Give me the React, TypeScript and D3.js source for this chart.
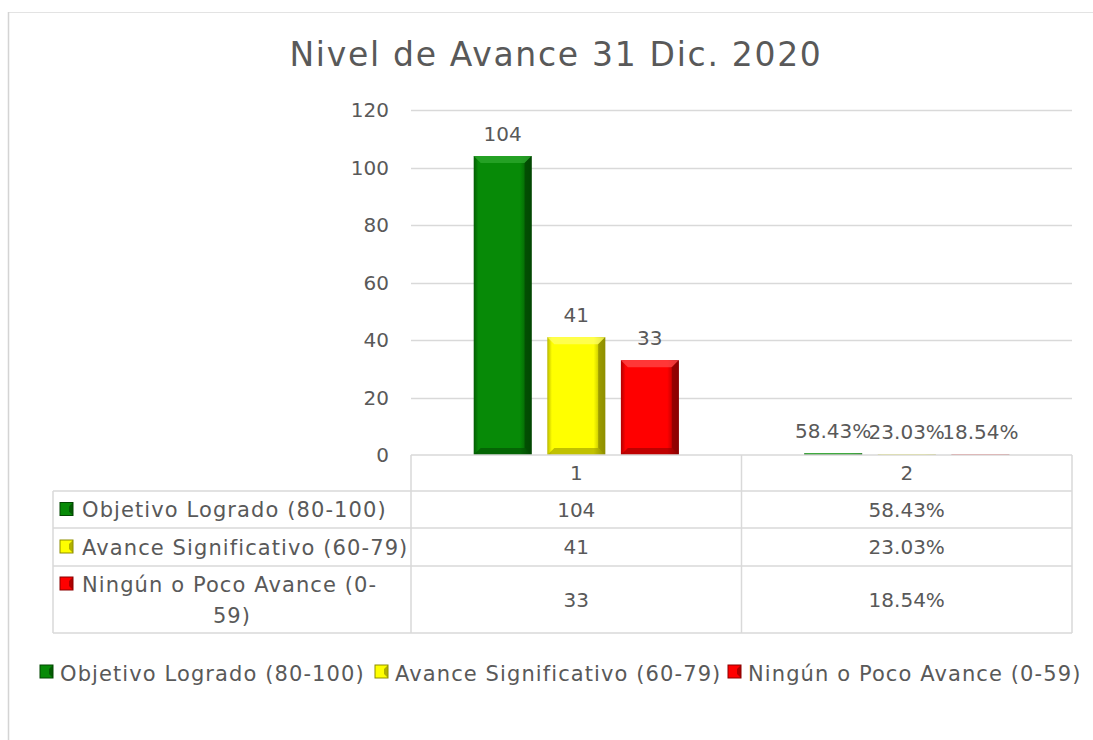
import React from "react";
import * as d3 from "d3";

const title = "Nivel de Avance 31 Dic. 2020";
const categories = ["1", "2"];
const seriesNames = [
  "Objetivo Logrado (80-100)",
  "Avance Significativo (60-79)",
  "Ningún o Poco Avance (0-59)",
];
const tableLabelLines = [
  ["Objetivo Logrado (80-100)"],
  ["Avance Significativo (60-79)"],
  ["Ningún o Poco Avance (0-", "59)"],
];
const objetivoValues = [104, 0.5843];
const avanceValues = [41, 0.2303];
const ningunValues = [33, 0.1854];
const categoryFormats = ["count", "percent"];
const yTicks = [0, 20, 40, 60, 80, 100, 120];

const seriesValues = [objetivoValues, avanceValues, ningunValues];
const seriesColors = [
  { base: "#078a07", light: "#2fa82f", dark: "#024702", edge: "#035d03" },
  { base: "#ffff00", light: "#ffff66", dark: "#8e8e00", edge: "#b8b800" },
  { base: "#ff0000", light: "#ff4a4a", dark: "#8a0000", edge: "#b00000" },
];

const FONT = "'DejaVu Sans', sans-serif";
const TEXT = "#595959";
const GRID = "#d9d9d9";
const WORD_SPACING = 1.1;

const fmt = (v: number, ci: number) =>
  categoryFormats[ci] === "percent" ? (v * 100).toFixed(2) + "%" : String(v);

export default function App() {
  const W = 1093;
  const H = 740;
  const plotLeft = 411;
  const plotRight = 1072;
  const y = d3.scaleLinear().domain([0, 120]).range([455, 110]);
  const x = d3.scaleBand<string>().domain(categories).range([plotLeft, plotRight]);
  const x1 = d3
    .scaleBand<string>()
    .domain(seriesNames)
    .range([0, x.bandwidth()])
    .paddingInner(0.213)
    .paddingOuter(0.852);

  const tableLeft = 53;
  const rowEdges = [455, 491, 528, 566, 633];
  const legendX = [40, 375, 728];
  const legendY = 673;

  const bars: React.ReactNode[] = [];
  seriesNames.forEach((s, si) => {
    categories.forEach((c, ci) => {
      const v = seriesValues[si][ci];
      const bx = (x(c) as number) + (x1(s) as number);
      const bw = x1.bandwidth();
      const top = y(v);
      const bottom = y(0);
      const h = bottom - top;
      const b = Math.min(7, h / 2);
      const col = seriesColors[si];
      bars.push(
        <g key={`b-${si}-${ci}`}>
          <rect x={bx} y={top} width={bw} height={h} fill={`url(#grad${si})`} />
          <polygon
            points={`${bx},${top} ${bx + bw},${top} ${bx + bw - b},${top + b} ${bx + b},${top + b}`}
            fill={col.light}
            opacity={0.75}
          />
          <polygon
            points={`${bx},${bottom} ${bx + bw},${bottom} ${bx + bw - b},${bottom - b} ${bx + b},${bottom - b}`}
            fill={col.dark}
            opacity={0.55}
          />
          <polygon
            points={`${bx + bw},${top} ${bx + bw},${bottom} ${bx + bw - b},${bottom - b} ${bx + bw - b},${top + b}`}
            fill={col.dark}
            opacity={0.8}
          />
          <text
            x={bx + bw / 2}
            y={top - 15}
            textAnchor="middle"
            fontSize={20}
            fill={TEXT}
            fontFamily={FONT}
          >
            {fmt(v, ci)}
          </text>
        </g>
      );
    });
  });

  const marker = (mx: number, my: number, si: number, key: string) => {
    const col = seriesColors[si];
    return (
      <g key={key}>
        <rect x={mx} y={my} width={13} height={13} fill={col.base} stroke={col.dark} strokeWidth={1} />
        <polygon
          points={`${mx + 13},${my} ${mx + 13},${my + 13} ${mx + 9},${my + 9} ${mx + 9},${my + 4}`}
          fill={col.dark}
          opacity={0.7}
        />
      </g>
    );
  };

  return (
    <div style={{ position: "fixed", left: 0, top: 0, width: W, height: H, background: "#fff" }}>
      <svg width={W} height={H} style={{ display: "block" }}>
        <defs>
          {seriesColors.map((c, i) => (
            <linearGradient key={i} id={`grad${i}`} x1="0" x2="1" y1="0" y2="0">
              <stop offset="0%" stopColor={c.edge} />
              <stop offset="8%" stopColor={c.base} />
              <stop offset="80%" stopColor={c.base} />
              <stop offset="100%" stopColor={c.dark} />
            </linearGradient>
          ))}
        </defs>
        <rect x={0} y={0} width={W} height={H} fill="#fff" />
        {/* frame */}
        <line x1={8.5} x2={W} y1={12.5} y2={12.5} stroke="#e3e3e3" strokeWidth={1} />
        <line x1={8.5} x2={8.5} y1={12} y2={H} stroke="#d4d4d4" strokeWidth={1.5} />

        {/* title */}
        <text
          x={556}
          y={66}
          textAnchor="middle"
          fontSize={33}
          letterSpacing={1.7}
          fill={TEXT}
          fontFamily={FONT}
        >
          {title}
        </text>

        {/* gridlines & ticks */}
        {yTicks.map((t) => (
          <g key={`t${t}`}>
            {t > 0 && (
              <line x1={plotLeft} x2={plotRight} y1={Math.round(y(t)) + 0.5} y2={Math.round(y(t)) + 0.5} stroke={GRID} strokeWidth={1.3} />
            )}
            <text
              x={389}
              y={y(t)}
              dy="0.36em"
              textAnchor="end"
              fontSize={20}
              fill={TEXT}
              fontFamily={FONT}
            >
              {t}
            </text>
          </g>
        ))}

        {bars}

        {/* data table */}
        <g stroke={GRID} strokeWidth={1.5} fill="none">
          <line x1={plotLeft} x2={plotRight} y1={rowEdges[0]} y2={rowEdges[0]} />
          {rowEdges.slice(1).map((ry, i) => (
            <line key={`h${i}`} x1={tableLeft} x2={plotRight} y1={ry} y2={ry} />
          ))}
          <line x1={tableLeft} x2={tableLeft} y1={rowEdges[1]} y2={rowEdges[4]} />
          <line x1={plotLeft} x2={plotLeft} y1={rowEdges[0]} y2={rowEdges[4]} />
          {categories.map((c) => (
            <line
              key={`v${c}`}
              x1={(x(c) as number) + x.bandwidth()}
              x2={(x(c) as number) + x.bandwidth()}
              y1={rowEdges[0]}
              y2={rowEdges[4]}
            />
          ))}
        </g>
        {categories.map((c) => (
          <text
            key={`hc${c}`}
            x={(x(c) as number) + x.bandwidth() / 2}
            y={(rowEdges[0] + rowEdges[1]) / 2}
            dy="0.36em"
            textAnchor="middle"
            fontSize={20}
            fill={TEXT}
            fontFamily={FONT}
          >
            {c}
          </text>
        ))}
        {seriesNames.map((s, si) => {
          const r0 = rowEdges[si + 1];
          const r1 = rowEdges[si + 2];
          const mid = (r0 + r1) / 2;
          const lines = tableLabelLines[si];
          const lineGap = 31;
          const firstY = lines.length > 1 ? mid - lineGap / 2 : mid;
          return (
            <g key={`row${si}`}>
              {marker(60, firstY - 7, si, `tm${si}`)}
              {lines.map((ln, li) => (
                <text
                  key={li}
                  x={li === 0 ? 82 : (tableLeft + plotLeft) / 2}
                  y={firstY + li * lineGap}
                  dy="0.36em"
                  textAnchor={li === 0 ? "start" : "middle"}
                  fontSize={21}
                  letterSpacing={WORD_SPACING}
                  fill={TEXT}
                  fontFamily={FONT}
                >
                  {ln}
                </text>
              ))}
              {categories.map((c, ci) => (
                <text
                  key={`cv${ci}`}
                  x={(x(c) as number) + x.bandwidth() / 2}
                  y={mid}
                  dy="0.36em"
                  textAnchor="middle"
                  fontSize={20}
                  fill={TEXT}
                  fontFamily={FONT}
                >
                  {fmt(seriesValues[si][ci], ci)}
                </text>
              ))}
            </g>
          );
        })}

        {/* legend */}
        {seriesNames.map((s, si) => (
          <g key={`lg${si}`}>
            {marker(legendX[si], legendY - 8, si, `lm${si}`)}
            <text
              x={legendX[si] + 20}
              y={legendY}
              dy="0.36em"
              fontSize={21}
              letterSpacing={WORD_SPACING}
              fill={TEXT}
              fontFamily={FONT}
            >
              {s}
            </text>
          </g>
        ))}
      </svg>
    </div>
  );
}
